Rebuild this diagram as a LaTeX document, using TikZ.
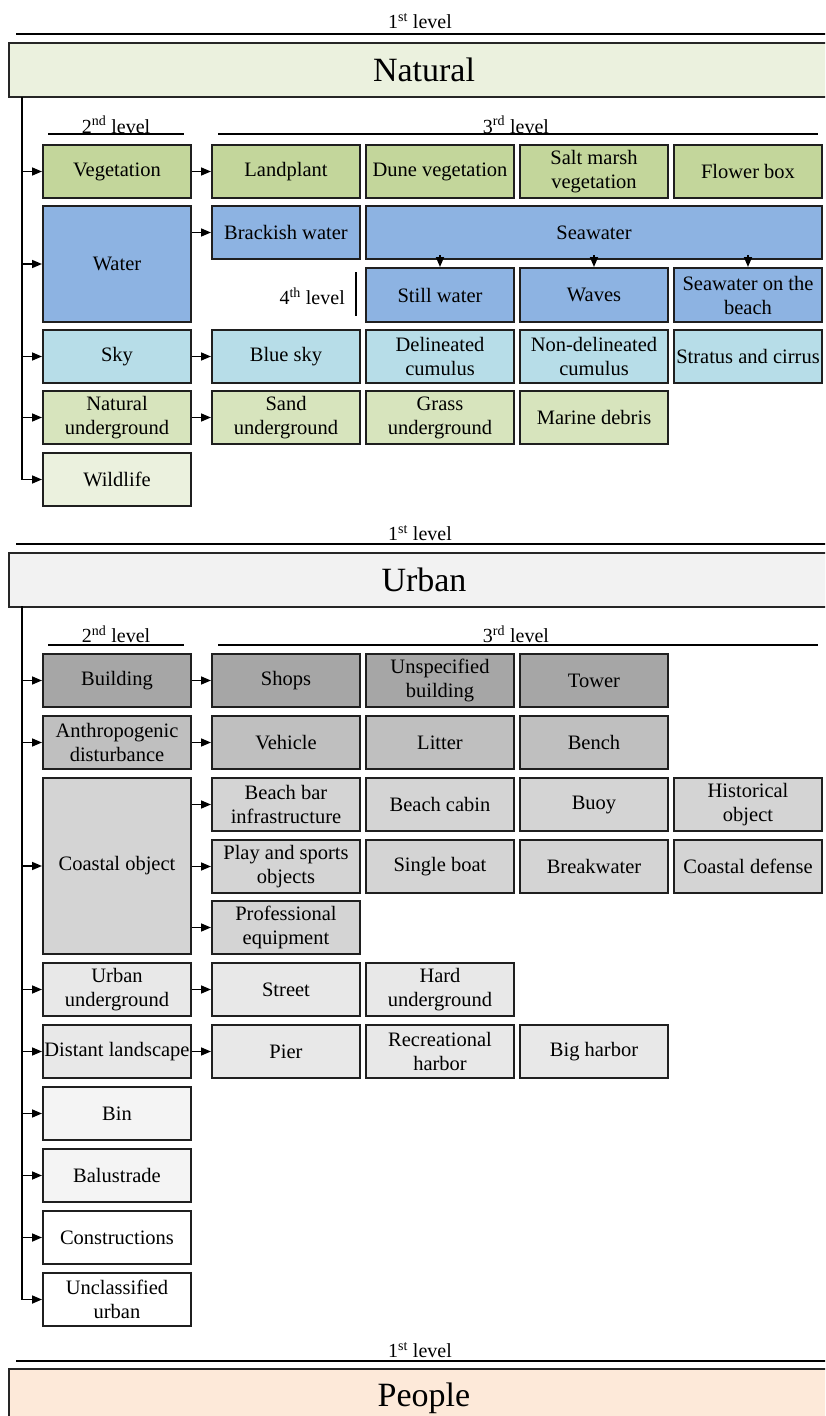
\documentclass[tikz,border=0pt]{standalone}
\usepackage{fontspec}
\setmainfont{Liberation Serif}
\usetikzlibrary{arrows.meta}
% fills
\definecolor{natA}{HTML}{EBF1DE}
\definecolor{vegC}{HTML}{C3D69B}
\definecolor{waterC}{HTML}{8DB3E2}
\definecolor{skyC}{HTML}{B7DDE8}
\definecolor{groundC}{HTML}{D7E4BD}
\definecolor{urbA}{HTML}{F2F2F2}
\definecolor{bldC}{HTML}{A6A6A6}
\definecolor{antC}{HTML}{BFBFBF}
\definecolor{coastC}{HTML}{D4D4D4}
\definecolor{uugC}{HTML}{E8E8E8}
\definecolor{binC}{HTML}{F4F4F4}
\definecolor{peopleC}{HTML}{FDE9D9}
\begin{document}
\begin{tikzpicture}[x=1pt,y=-1pt,
  box/.style={draw=black!88,line width=2pt,anchor=north west,
    minimum width=148pt,minimum height=53pt,inner sep=1pt,align=center,
    font=\fontsize{20.5}{24}\selectfont},
  hdr/.style={draw=black!85,line width=2pt,anchor=north west,
    minimum width=830pt,minimum height=54pt,inner sep=0pt,
    font=\fontsize{34}{40}\selectfont},
  lvl/.style={inner sep=0pt,font=\fontsize{20}{24}\selectfont},
  rule/.style={line width=1.8pt},
  arr/.style={line width=1.6pt,-{Stealth[length=10pt,width=8pt,inset=0pt]}}]
\useasboundingbox (0,0) rectangle (825,1416);
\clip (0,0) rectangle (825,1416);

% ---------------- Natural ----------------
\node[lvl] (nlv1) at (420,21) {1\textsuperscript{st} level};
\draw[rule] (16,34) -- (830,34);
\node[hdr,fill=natA] (natural) at (8,42) {Natural};
\node[lvl] (nlv2) at (116,125) {2\textsuperscript{nd} level};
\node[lvl] (nlv3) at (516,125) {3\textsuperscript{rd} level};
\draw[rule] (48,134) -- (184,134);
\draw[rule] (218,134) -- (818,134);

\node[box,fill=vegC] (veg) at (42,144) {Vegetation};
\node[box,fill=vegC] (landplant) at (211,144) {Landplant};
\node[box,fill=vegC] (dune) at (365,144) {Dune vegetation};
\node[box,fill=vegC] (salt) at (519,144) {Salt marsh\\vegetation};
\node[box,fill=vegC] (flower) at (673,144) {Flower box};

\node[box,fill=waterC,minimum height=116pt] (water) at (42,205) {Water};
\node[box,fill=waterC] (brackish) at (211,205) {Brackish water};
\node[box,fill=waterC,minimum width=456pt] (sea) at (365,205) {Seawater};
\node[box,fill=waterC,minimum height=54pt] (still) at (365,267) {Still water};
\node[box,fill=waterC,minimum height=54pt] (waves) at (519,267) {Waves};
\node[box,fill=waterC,minimum height=54pt] (beach) at (673,267) {Seawater on the\\beach};
\node[lvl,anchor=east] (nlv4) at (345,296) {4\textsuperscript{th} level};
\draw[rule] (356,272) -- (356,316);

\node[box,fill=skyC] (sky) at (42,329) {Sky};
\node[box,fill=skyC] (bluesky) at (211,329) {Blue sky};
\node[box,fill=skyC] (delin) at (365,329) {Delineated\\cumulus};
\node[box,fill=skyC] (nondelin) at (519,329) {Non-delineated\\cumulus};
\node[box,fill=skyC] (stratus) at (673,329) {Stratus and cirrus};

\node[box,fill=groundC] (natug) at (42,390) {Natural\\underground};
\node[box,fill=groundC] (sand) at (211,390) {Sand\\underground};
\node[box,fill=groundC] (grass) at (365,390) {Grass\\underground};
\node[box,fill=groundC] (debris) at (519,390) {Marine debris};

\node[box,fill=natA] (wild) at (42,452) {Wildlife};

\coordinate (ntop) at (22,97);
\draw[arr] (ntop) |- (wild.west);
\foreach \n in {veg,water,sky,natug}
  \draw[arr] (ntop |- \n.west) -- (\n.west);
\draw[arr] (veg.east) -- (landplant.west);
\draw[arr] (water.east |- brackish.west) -- (brackish.west);
\draw[arr] (sky.east) -- (bluesky.west);
\draw[arr] (natug.east) -- (sand.west);
\foreach \n in {still,waves,beach}
  \draw[arr] ([yshift=5pt]\n.north |- sea.south) -- (\n.north);

% ---------------- Urban ----------------
\node[lvl] (ulv1) at (420,533) {1\textsuperscript{st} level};
\draw[rule] (16,544) -- (830,544);
\node[hdr,fill=urbA,minimum height=54pt] (urban) at (8,552) {Urban};
\node[lvl] (ulv2) at (116,634) {2\textsuperscript{nd} level};
\node[lvl] (ulv3) at (516,634) {3\textsuperscript{rd} level};
\draw[rule] (48,645) -- (184,645);
\draw[rule] (218,645) -- (818,645);

\node[box,fill=bldC] (building) at (42,653) {Building};
\node[box,fill=bldC] (shops) at (211,653) {Shops};
\node[box,fill=bldC] (unspec) at (365,653) {Unspecified\\building};
\node[box,fill=bldC] (tower) at (519,653) {Tower};

\node[box,fill=antC] (anthro) at (42,715) {Anthropogenic\\disturbance};
\node[box,fill=antC] (vehicle) at (211,715) {Vehicle};
\node[box,fill=antC] (litter) at (365,715) {Litter};
\node[box,fill=antC] (bench) at (519,715) {Bench};

\node[box,fill=coastC,minimum height=176pt] (coastal) at (42,777) {Coastal object};
\node[box,fill=coastC] (beachbar) at (211,777) {Beach bar\\infrastructure};
\node[box,fill=coastC] (cabin) at (365,777) {Beach cabin};
\node[box,fill=coastC] (buoy) at (519,777) {Buoy};
\node[box,fill=coastC] (hist) at (673,777) {Historical\\object};
\node[box,fill=coastC] (play) at (211,839) {Play and sports\\objects};
\node[box,fill=coastC] (boat) at (365,839) {Single boat};
\node[box,fill=coastC] (breakwater) at (519,839) {Breakwater};
\node[box,fill=coastC] (defense) at (673,839) {Coastal defense};
\node[box,fill=coastC] (prof) at (211,900) {Professional\\equipment};

\node[box,fill=uugC] (urbug) at (42,962) {Urban\\underground};
\node[box,fill=uugC] (street) at (211,962) {Street};
\node[box,fill=uugC] (hard) at (365,962) {Hard\\underground};

\node[box,fill=uugC] (distant) at (42,1024) {Distant landscape};
\node[box,fill=uugC] (pier) at (211,1024) {Pier};
\node[box,fill=uugC] (rec) at (365,1024) {Recreational\\harbor};
\node[box,fill=uugC] (big) at (519,1024) {Big harbor};

\node[box,fill=binC] (bin) at (42,1086) {Bin};
\node[box,fill=binC] (balus) at (42,1148) {Balustrade};
\node[box,fill=white] (constr) at (42,1210) {Constructions};
\node[box,fill=white] (unclass) at (42,1272) {Unclassified\\urban};

\coordinate (utop) at (22,606);
\draw[arr] (utop) |- (unclass.west);
\foreach \n in {building,anthro,coastal,urbug,distant,bin,balus,constr}
  \draw[arr] (utop |- \n.west) -- (\n.west);
\draw[arr] (building.east) -- (shops.west);
\draw[arr] (anthro.east) -- (vehicle.west);
\foreach \n in {beachbar,play,prof}
  \draw[arr] (coastal.east |- \n.west) -- (\n.west);
\draw[arr] (urbug.east) -- (street.west);
\draw[arr] (distant.east) -- (pier.west);

% ---------------- People ----------------
\node[lvl] (plv1) at (420,1350) {1\textsuperscript{st} level};
\draw[rule] (16,1361) -- (830,1361);
\node[hdr,fill=peopleC,minimum height=58pt] (people) at (8,1368) {People};
\end{tikzpicture}
\end{document}
